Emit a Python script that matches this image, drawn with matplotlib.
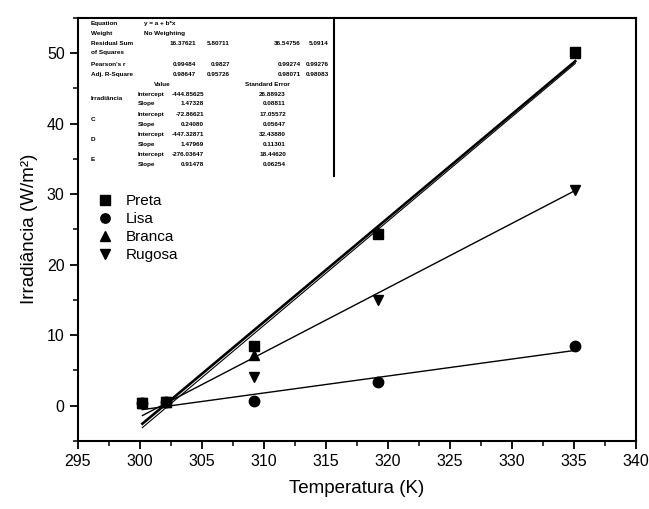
import matplotlib
matplotlib.use("Agg")
import matplotlib.pyplot as plt
from matplotlib import font_manager
import numpy as np

plt.rcParams['font.family'] = ['Liberation Sans', 'DejaVu Sans']

# Measured data
temperatura = [300.2, 302.1, 309.2, 319.2, 335.1]
preta = [0.4, 0.5, 8.4, 24.4, 50.2]
lisa = [0.4, 0.5, 0.6, 3.3, 8.5]
branca = [0.4, 0.5, 7.1, 24.6, 50.0]
rugosa = [0.4, 0.5, 4.1, 15.0, 30.6]

# Linear fit parameters (y = a + b*x)
fit_names = ["Irradiância", "C", "D", "E"]
intercepts = [-444.85625, -72.86621, -447.32871, -276.03647]
intercept_err = [26.88923, 17.05572, 32.4388, 18.4462]
slopes = [1.47328, 0.24080, 1.47969, 0.91478]
slope_err = [0.08811, 0.05647, 0.11301, 0.06254]
rss = ["16.37621", "5.80711", "36.54756", "5.0914"]
pearson = ["0.99484", "0.9827", "0.99274", "0.99276"]
adj_r2 = ["0.98647", "0.95726", "0.98071", "0.98083"]

series = [("Preta", preta, "s"), ("Lisa", lisa, "o"),
          ("Branca", branca, "^"), ("Rugosa", rugosa, "v")]
fit_widths = [1.9, 1.0, 0.8, 1.0]

installed = {f.name for f in font_manager.fontManager.ttflist}
narrow = "Liberation Sans Narrow" if "Liberation Sans Narrow" in installed else "Liberation Sans"

fig = plt.figure(figsize=(6.49, 5.09), dpi=100)
ax = fig.add_axes([0.120, 0.134, 0.860, 0.831])

for label, vals, mk in series:
    ax.plot(temperatura, vals, linestyle="none", marker=mk, color="black",
            markersize=7.5, label=label)

xfit = np.array([min(temperatura), max(temperatura)])
for a, b, lw in zip(intercepts, slopes, fit_widths):
    ax.plot(xfit, a + b * xfit, color="black", linewidth=lw)

ax.set_xlim(295, 340)
ax.set_ylim(-4.7, 55.0)
ax.set_xticks(np.arange(295, 341, 5))
ax.set_xticks(np.arange(297.5, 340, 5), minor=True)
ax.set_yticks(np.arange(0, 51, 10))
ax.set_yticks(np.arange(-5, 56, 5), minor=True)
ax.tick_params(which="major", direction="out", length=6, width=1.3,
               labelsize=11.5, top=False, right=False)
ax.tick_params(which="minor", direction="out", length=3.5, width=1.1,
               top=False, right=False)
for s in ax.spines.values():
    s.set_linewidth(1.5)

ax.set_xlabel("Temperatura (K)", fontsize=13.5, labelpad=8)
ax.set_ylabel("Irradiância (W/m²)", fontsize=13.5, labelpad=6)

leg = ax.legend(loc="upper left", bbox_to_anchor=(0.01, 0.615), frameon=False,
                fontsize=11, handlelength=1.0, handletextpad=0.9,
                labelspacing=0.25, markerscale=0.9)

# Fit results table
tk = dict(fontsize=4.6, fontweight="bold", family=[narrow, "DejaVu Sans"],
          transform=ax.transData, va="center")

def px(x, y):
    # figure pixel -> data coordinates
    xd = 295 + (x - 77) / 558 * 45
    yd = (408 - y) / 7.06
    return xd, yd

def put(x, y, s, ha="left"):
    xd, yd = px(x, y)
    ax.text(xd, yd, s, ha=ha, **tk)

put(90, 25, "Equation")
put(143, 25, "y = a + b*x")
put(90, 35, "Weight")
put(143, 35, "No Weighting")
put(90, 45, "Residual Sum")
put(90, 54, "of Squares")
put(90, 66, "Pearson's r")
put(90, 76, "Adj. R-Square")
col_right = [195, 229, 300, 328]
for xr, r, p, q in zip(col_right, rss, pearson, adj_r2):
    put(xr, 45, r, ha="right")
    put(xr, 66, p, ha="right")
    put(xr, 76, q, ha="right")
put(170, 86, "Value", ha="right")
put(289, 86, "Standard Error", ha="right")
row_y = [96, 117, 137, 157]
for name, a, ea, b, eb, yr in zip(fit_names, intercepts, intercept_err,
                                  slopes, slope_err, row_y):
    put(90, yr + 5, name)
    put(137, yr, "Intercept")
    put(137, yr + 10, "Slope")
    put(203, yr, f"{a:.5f}", ha="right")
    put(203, yr + 10, f"{b:.5f}", ha="right")
    put(285, yr, f"{ea:.5f}", ha="right")
    put(285, yr + 10, f"{eb:.5f}", ha="right")

xb, _ = px(333, 0)
ax.plot([xb, xb], [px(0, 178)[1], 55.0], color="black", linewidth=1.5,
        clip_on=False)

fig.savefig("out.png", dpi=100)
